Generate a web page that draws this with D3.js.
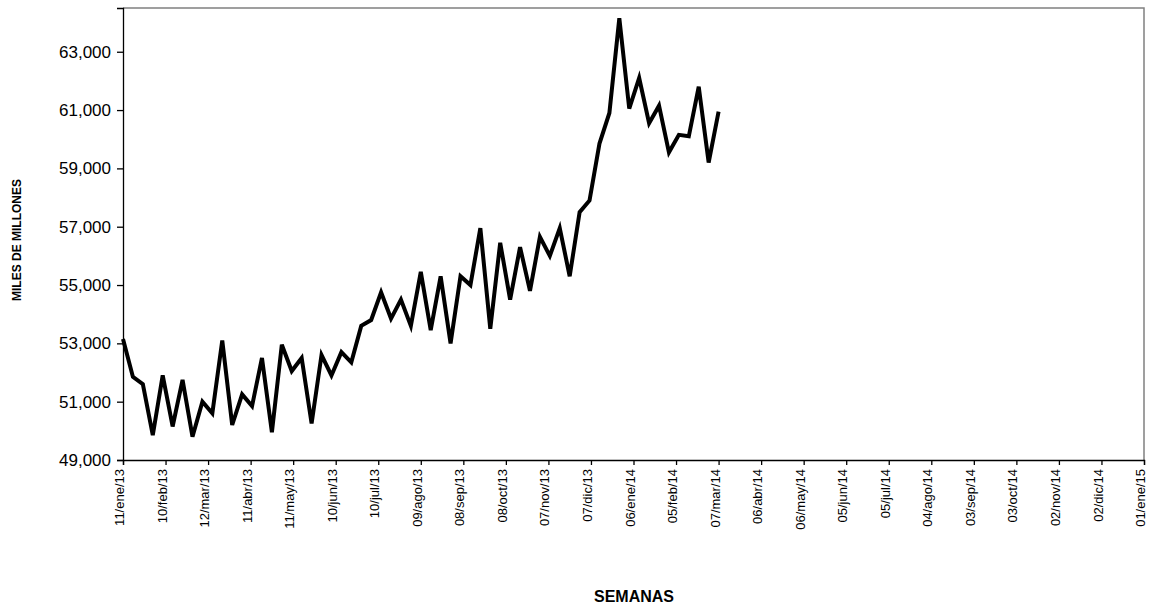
<!DOCTYPE html>
<html><head><meta charset="utf-8">
<script src="https://cdn.jsdelivr.net/npm/d3@7"></script>
<style>body{margin:0;background:#fff;font-family:"Liberation Sans",Arial,sans-serif}</style>
</head><body><div id="chart"></div>
<script>
const startDate = "2013-01-11";
const values = [53150,51850,51600,49850,51900,50150,51750,49800,51000,50600,
  53100,50200,51250,50850,52500,49950,52950,52050,52500,50250,
  52600,51900,52700,52350,53600,53800,54750,53850,54500,53600,
  55450,53450,55300,53000,55300,55000,56950,53500,56450,54500,
  56300,54800,56650,56000,56950,55300,57500,57900,59850,60900,
  64150,61050,62100,60550,61150,59550,60150,60100,61800,59200,60950];
const yTicks = [49000,51000,53000,55000,57000,59000,61000,63000];
const monthNames = ["ene","feb","mar","abr","may","jun","jul","ago","sep","oct","nov","dic"];

const W = 1156, H = 611, m = {l:123, r:12, t:8, b:151};
const parse = d3.timeParse("%Y-%m-%d");
const t0 = parse(startDate);
const data = values.map((v,i) => ({d: d3.timeDay.offset(t0, 7*i), v}));
const xTicks = d3.range(25).map(i => d3.timeDay.offset(t0, 30*i));

const svg = d3.select("#chart").append("svg").attr("width", W).attr("height", H);
const x = d3.scaleTime().domain([t0, xTicks[24]]).range([m.l, W - m.r]);
const y = d3.scaleLinear().domain([49000, 64500]).range([H - m.b, m.t]);

svg.append("path")
  .attr("d", `M${m.l},${m.t}H${W-m.r}V${H-m.b}`)
  .attr("fill", "none").attr("stroke", "#808080").attr("stroke-width", 1.5);

const fmt = d => String(d.getDate()).padStart(2,"0") + "/" + monthNames[d.getMonth()] + "/" + String(d.getFullYear()).slice(2);

const gx = svg.append("g").attr("transform", `translate(0,${H-m.b})`)
  .call(d3.axisBottom(x).tickValues(xTicks).tickFormat(fmt).tickSize(5));
gx.selectAll("text").attr("transform", "rotate(-90)").attr("text-anchor", "end")
  .attr("x", -9).attr("y", -4).attr("dy", "0.35em").style("font-size", "13px");

const gy = svg.append("g").attr("transform", `translate(${m.l},0)`)
  .call(d3.axisLeft(y).tickValues(yTicks).tickFormat(d3.format(",")).tickSize(6));
gy.selectAll("text").style("font-size", "17px").attr("x", -12);

svg.selectAll(".domain, .tick line").attr("stroke", "#000").attr("stroke-width", 1.3);
svg.selectAll(".tick text").attr("fill", "#000").style("font-family", "'Liberation Sans',Arial,sans-serif");

svg.append("path").datum(data)
  .attr("fill", "none").attr("stroke", "#000").attr("stroke-width", 4).attr("stroke-linejoin", "miter")
  .attr("d", d3.line().x(d => x(d.d)).y(d => y(d.v)));

svg.append("text").attr("x", 634).attr("y", 602).attr("text-anchor", "middle")
  .style("font-weight", "bold").style("font-size", "16px").text("SEMANAS");
svg.append("text").attr("transform", "translate(21,240) rotate(-90)").attr("text-anchor", "middle")
  .style("font-weight", "bold").style("font-size", "12px").text("MILES DE MILLONES");
</script></body></html>
